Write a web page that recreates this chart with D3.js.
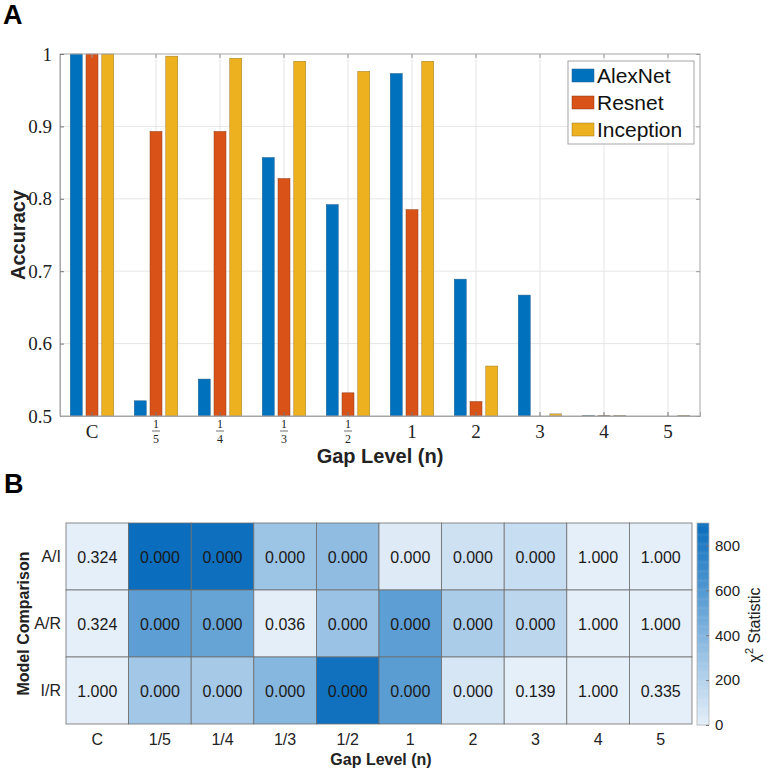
<!DOCTYPE html>
<html>
<head>
<meta charset="utf-8">
<script src="https://cdn.jsdelivr.net/npm/d3@7"></script>
<style>
  body { margin: 0; background: #fff; }
  svg { display: block; font-family: "Liberation Sans", Arial, Helvetica, sans-serif; }
</style>
</head>
<body>
<svg id="chart" width="767" height="772"></svg>
<script>
// ---------- DATA ----------
const categories = ["C", "1/5", "1/4", "1/3", "1/2", "1", "2", "3", "4", "5"];
const seriesNames = ["AlexNet", "Resnet", "Inception"];
const alexnet   = [1.000, 0.521, 0.551, 0.857, 0.792, 0.973, 0.689, 0.667, 0.501, 0.45];
const resnet    = [1.000, 0.893, 0.893, 0.828, 0.532, 0.785, 0.520, 0.45, 0.501, 0.45];
const inception = [1.000, 0.997, 0.994, 0.990, 0.976, 0.990, 0.569, 0.503, 0.501, 0.501];
const yTicks = [0.5, 0.6, 0.7, 0.8, 0.9, 1];

const comparisons = ["A/I", "A/R", "I/R"];
const pAI = ["0.324", "0.000", "0.000", "0.000", "0.000", "0.000", "0.000", "0.000", "1.000", "1.000"];
const pAR = ["0.324", "0.000", "0.000", "0.036", "0.000", "0.000", "0.000", "0.000", "1.000", "1.000"];
const pIR = ["1.000", "0.000", "0.000", "0.000", "0.000", "0.000", "0.000", "0.139", "1.000", "0.335"];
const chiAI = [1, 900, 885, 300, 350, 30, 95, 125, 0, 0];
const chiAR = [1, 560, 520, 4.4, 310, 560, 240, 170, 0, 0];
const chiIR = [0, 275, 265, 390, 870, 570, 60, 2.2, 0, 0.9];
const colorbarTicks = [0, 200, 400, 600, 800];

// ---------- SETUP ----------
const svg = d3.select("#chart");
const colors = ["#0072BD", "#D95319", "#EDB120"];
const strokes = ["#1f5f8f", "#8f3a14", "#9c7a20"];
const series = [alexnet, resnet, inception];
const serif = "'Liberation Serif', 'DejaVu Serif', serif";
const sans = "'Liberation Sans', Arial, Helvetica, sans-serif";

// ---------- PANEL A ----------
const A = { left: 60, right: 700, top: 54, bottom: 416 };
const x = d3.scaleBand().domain(categories).range([A.left, A.right]).padding(0);
const xs = d3.scaleBand().domain(seriesNames).range([-21.75, 21.75]).paddingInner(0.24);
const y = d3.scaleLinear().domain([0.5, 1]).range([A.bottom, A.top]);

// grid
const gA = svg.append("g");
gA.selectAll("line.hg").data(yTicks.slice(1, -1)).join("line")
  .attr("x1", A.left).attr("x2", A.right)
  .attr("y1", d => y(d)).attr("y2", d => y(d))
  .attr("stroke", "#e6e6e6").attr("stroke-width", 1);
gA.selectAll("line.vg").data(categories).join("line")
  .attr("y1", A.top).attr("y2", A.bottom)
  .attr("x1", d => x(d) + x.bandwidth() / 2).attr("x2", d => x(d) + x.bandwidth() / 2)
  .attr("stroke", "#e6e6e6").attr("stroke-width", 1);

// bars
const barData = [];
categories.forEach((c, i) => {
  seriesNames.forEach((s, j) => {
    barData.push({ c, s, j, v: series[j][i] });
  });
});
gA.selectAll("rect.bar").data(barData.filter(d => d.v >= 0.5)).join("rect")
  .attr("x", d => x(d.c) + x.bandwidth() / 2 + xs(d.s))
  .attr("width", xs.bandwidth())
  .attr("y", d => y(Math.min(d.v, 1)))
  .attr("height", d => y(0.5) - y(Math.min(d.v, 1)))
  .attr("fill", d => colors[d.j])
  .attr("stroke", d => d.v < 0.51 ? "#888" : strokes[d.j])
  .attr("stroke-width", 0.5);

// box
gA.append("rect").attr("x", A.left).attr("y", A.top)
  .attr("width", A.right - A.left).attr("height", A.bottom - A.top)
  .attr("fill", "none").attr("stroke", "#a6a6a6").attr("stroke-width", 1);

// axes
const yAxis = d3.axisLeft(y).tickValues(yTicks).tickSize(-4).tickPadding(8)
  .tickFormat(d => d === 1 ? "1" : d3.format(".1f")(d));
const gy = svg.append("g").attr("transform", `translate(${A.left},0)`).call(yAxis);
gy.select(".domain").attr("stroke", "#a6a6a6");
gy.selectAll(".tick line").attr("stroke", "#777");
gy.selectAll(".tick text").style("font-family", serif).style("font-size", "19px").attr("fill", "#222");

const xAxis = d3.axisBottom(x).tickSize(-4).tickFormat("");
const gx = svg.append("g").attr("transform", `translate(0,${A.bottom})`).call(xAxis);
gx.select(".domain").attr("stroke", "#a6a6a6");
gx.selectAll(".tick line").attr("stroke", "#777");
// top / right mirror ticks
const gxt = svg.append("g").attr("transform", `translate(0,${A.top})`).call(d3.axisTop(x).tickSize(-4).tickFormat(""));
gxt.select(".domain").remove();
gxt.selectAll(".tick line").attr("stroke", "#999");
const gyr = svg.append("g").attr("transform", `translate(${A.right},0)`).call(d3.axisRight(y).tickValues(yTicks).tickSize(-4).tickFormat(""));
gyr.select(".domain").remove();
gyr.selectAll(".tick line").attr("stroke", "#999");

// x tick labels (LaTeX-like fractions)
categories.forEach(c => {
  const cx = x(c) + x.bandwidth() / 2;
  const g = svg.append("g").attr("transform", `translate(${cx},0)`);
  if (c.includes("/")) {
    const [n, d] = c.split("/");
    g.append("text").attr("y", 428).attr("text-anchor", "middle")
      .style("font-family", serif).style("font-size", "12px").attr("fill", "#222").text(n);
    g.append("line").attr("x1", -4).attr("x2", 4).attr("y1", 431).attr("y2", 431)
      .attr("stroke", "#333").attr("stroke-width", 0.7);
    g.append("text").attr("y", 443).attr("text-anchor", "middle")
      .style("font-family", serif).style("font-size", "12px").attr("fill", "#222").text(d);
  } else {
    g.append("text").attr("y", 438).attr("text-anchor", "middle")
      .style("font-family", serif).style("font-size", "19px").attr("fill", "#222").text(c);
  }
});

// titles
svg.append("text").attr("x", 380).attr("y", 463).attr("text-anchor", "middle")
  .attr("font-weight", "bold").style("font-size", "20px").attr("fill", "#222").text("Gap Level (n)");
svg.append("text").attr("transform", `translate(25,${(A.top + A.bottom) / 2}) rotate(-90)`)
  .attr("text-anchor", "middle").attr("font-weight", "bold").style("font-size", "20px")
  .attr("fill", "#222").text("Accuracy");
svg.append("text").attr("x", 3).attr("y", 24).attr("font-weight", "bold")
  .style("font-size", "27px").attr("fill", "#000").text("A");

// legend
const lg = svg.append("g");
lg.append("rect").attr("x", 568).attr("y", 61).attr("width", 126).attr("height", 83)
  .attr("fill", "#fff").attr("stroke", "#a6a6a6").attr("stroke-width", 1);
seriesNames.forEach((s, j) => {
  const by = 83 + j * 27;
  lg.append("rect").attr("x", 572).attr("y", by - 14).attr("width", 22).attr("height", 13)
    .attr("fill", colors[j]).attr("stroke", strokes[j]).attr("stroke-width", 0.5);
  lg.append("text").attr("x", 597).attr("y", by).style("font-size", "21px").attr("fill", "#111").text(s);
});

// ---------- PANEL B ----------
const B = { left: 66, right: 692, top: 523, bottom: 724 };
const hx = d3.scaleBand().domain(categories).range([B.left, B.right]);
const hy = d3.scaleBand().domain(comparisons).range([B.top, B.bottom]);
const cmax = 900;
const color = d3.scaleLinear().domain([0, cmax]).range(["#e5eff9", "#0a6dbd"]).clamp(true);

const pRows = [pAI, pAR, pIR];
const chiRows = [chiAI, chiAR, chiIR];
const cells = [];
comparisons.forEach((r, i) => categories.forEach((c, k) => cells.push({ r, c, p: pRows[i][k], v: chiRows[i][k] })));

const gB = svg.append("g");
gB.selectAll("rect.cell").data(cells).join("rect")
  .attr("x", d => hx(d.c)).attr("y", d => hy(d.r))
  .attr("width", hx.bandwidth()).attr("height", hy.bandwidth())
  .attr("fill", d => color(d.v)).attr("stroke", "#6e6e6e").attr("stroke-width", 0.8);
gB.selectAll("text.cell").data(cells).join("text")
  .attr("x", d => hx(d.c) + hx.bandwidth() / 2)
  .attr("y", d => hy(d.r) + hy.bandwidth() / 2 + 6)
  .attr("text-anchor", "middle").style("font-size", "16px").attr("fill", "#1a1a1a").text(d => d.p);

const hxAxis = svg.append("g").attr("transform", `translate(0,${B.bottom})`)
  .call(d3.axisBottom(hx).tickSize(0).tickPadding(10));
hxAxis.select(".domain").remove();
hxAxis.selectAll("text").style("font-size", "16px").attr("fill", "#222").style("font-family", sans);
const hyAxis = svg.append("g").attr("transform", `translate(${B.left},0)`)
  .call(d3.axisLeft(hy).tickSize(0).tickPadding(5));
hyAxis.select(".domain").remove();
hyAxis.selectAll("text").style("font-size", "16px").attr("fill", "#222").style("font-family", sans);

svg.append("text").attr("x", 381).attr("y", 765).attr("text-anchor", "middle")
  .attr("font-weight", "bold").style("font-size", "16px").attr("fill", "#222").text("Gap Level (n)");
svg.append("text").attr("transform", `translate(29,${(B.top + B.bottom) / 2}) rotate(-90)`)
  .attr("text-anchor", "middle").attr("font-weight", "bold").style("font-size", "16px")
  .attr("fill", "#222").text("Model Comparison");
svg.append("text").attr("x", 4).attr("y", 493).attr("font-weight", "bold")
  .style("font-size", "27px").attr("fill", "#000").text("B");

// colorbar
const CB = { x: 697, w: 12, top: 523, bottom: 725 };
const cy = d3.scaleLinear().domain([0, cmax]).range([CB.bottom, CB.top]);
const steps = d3.range(0, cmax, 5);
svg.append("g").selectAll("rect").data(steps).join("rect")
  .attr("x", CB.x).attr("width", CB.w)
  .attr("y", d => cy(d + 5)).attr("height", d => cy(d) - cy(d + 5) + 0.5)
  .attr("fill", d => color(d + 2.5));
svg.append("rect").attr("x", CB.x).attr("y", CB.top).attr("width", CB.w)
  .attr("height", CB.bottom - CB.top).attr("fill", "none").attr("stroke", "#b3b3b3").attr("stroke-width", 0.8);
const cbAxis = svg.append("g").attr("transform", `translate(${CB.x + CB.w},0)`)
  .call(d3.axisRight(cy).tickValues(colorbarTicks).tickSize(-3).tickPadding(6));
cbAxis.select(".domain").remove();
cbAxis.selectAll(".tick line").attr("stroke", "#777");
cbAxis.selectAll("text").style("font-size", "15px").attr("fill", "#222").style("font-family", sans);
const cbt = svg.append("text").attr("transform", `translate(760,625) rotate(-90)`)
  .attr("text-anchor", "middle").style("font-size", "16px").attr("fill", "#222");
cbt.append("tspan").text("χ");
cbt.append("tspan").attr("dy", -7).style("font-size", "11px").text("2");
cbt.append("tspan").attr("dy", 7).text(" Statistic");
</script>
</body>
</html>
